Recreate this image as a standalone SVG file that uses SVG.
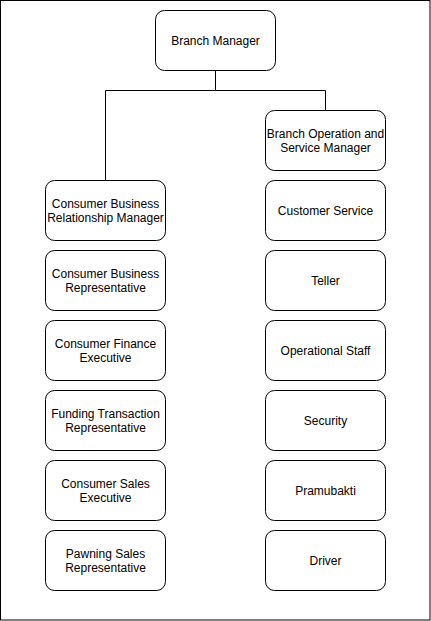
<svg xmlns="http://www.w3.org/2000/svg" width="431" height="621" viewBox="0 0 431 621">
<style>
.box{fill:#fff;stroke:#000;stroke-width:1}
.t{font-family:"Liberation Sans",Arial,Helvetica,sans-serif;font-size:12px;fill:#000;text-anchor:middle}
.c{fill:none;stroke:#000;stroke-width:1}
</style>
<rect x="0.5" y="0.5" width="429.5" height="619.5" fill="#fff" stroke="#000" stroke-width="1"/>
<g id="connectors">
<path class="c" d="M215.5 70 V90.5 H105.5 V180"/>
<path class="c" d="M215.5 90.5 H325.5 V110"/>
</g>
<g id="branch-manager"><rect class="box" x="155.5" y="10.5" width="120" height="60" rx="9"/><text class="t" x="215.5" y="44.5">Branch Manager</text></g>
<g id="bosm"><rect class="box" x="265.5" y="110.5" width="120" height="60" rx="9"/><text class="t" x="325.5" y="137.5">Branch Operation and</text><text class="t" x="325.5" y="151.5">Service Manager</text></g>
<g id="cbrm"><rect class="box" x="45.5" y="180.5" width="120" height="60" rx="9"/><text class="t" x="105.5" y="207.5">Consumer Business</text><text class="t" x="105.5" y="221.5">Relationship Manager</text></g>
<g id="cbr"><rect class="box" x="45.5" y="250.5" width="120" height="60" rx="9"/><text class="t" x="105.5" y="277.5">Consumer Business</text><text class="t" x="105.5" y="291.5">Representative</text></g>
<g id="cfe"><rect class="box" x="45.5" y="320.5" width="120" height="60" rx="9"/><text class="t" x="105.5" y="347.5">Consumer Finance</text><text class="t" x="105.5" y="361.5">Executive</text></g>
<g id="ftr"><rect class="box" x="45.5" y="390.5" width="120" height="60" rx="9"/><text class="t" x="105.5" y="417.5">Funding Transaction</text><text class="t" x="105.5" y="431.5">Representative</text></g>
<g id="cse"><rect class="box" x="45.5" y="460.5" width="120" height="60" rx="9"/><text class="t" x="105.5" y="487.5">Consumer Sales</text><text class="t" x="105.5" y="501.5">Executive</text></g>
<g id="psr"><rect class="box" x="45.5" y="530.5" width="120" height="60" rx="9"/><text class="t" x="105.5" y="557.5">Pawning Sales</text><text class="t" x="105.5" y="571.5">Representative</text></g>
<g id="cs"><rect class="box" x="265.5" y="180.5" width="120" height="60" rx="9"/><text class="t" x="325.5" y="214.5">Customer Service</text></g>
<g id="teller"><rect class="box" x="265.5" y="250.5" width="120" height="60" rx="9"/><text class="t" x="325.5" y="284.5">Teller</text></g>
<g id="ops"><rect class="box" x="265.5" y="320.5" width="120" height="60" rx="9"/><text class="t" x="325.5" y="354.5">Operational Staff</text></g>
<g id="security"><rect class="box" x="265.5" y="390.5" width="120" height="60" rx="9"/><text class="t" x="325.5" y="424.5">Security</text></g>
<g id="pramubakti"><rect class="box" x="265.5" y="460.5" width="120" height="60" rx="9"/><text class="t" x="325.5" y="494.5">Pramubakti</text></g>
<g id="driver"><rect class="box" x="265.5" y="530.5" width="120" height="60" rx="9"/><text class="t" x="325.5" y="564.5">Driver</text></g>
</svg>
